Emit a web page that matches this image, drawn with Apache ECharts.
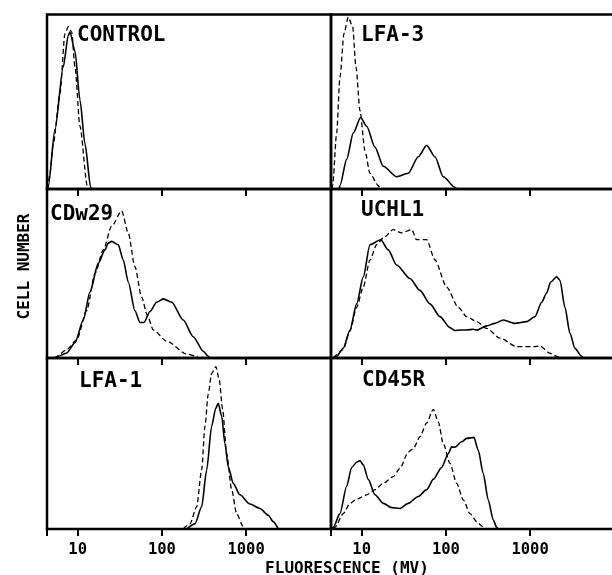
<!DOCTYPE html>
<html><head><meta charset="utf-8">
<script src="https://cdn.jsdelivr.net/npm/echarts@6/dist/echarts.min.js"></script>
<style>html,body{margin:0;padding:0;background:#fff;overflow:hidden}#c{width:612px;height:575px}</style>
</head><body><div id="c"></div>
<script>
// Panel names (row-major: left, right)
const panelNames = ['CONTROL', 'LFA-3', 'CDw29', 'UCHL1', 'LFA-1', 'CD45R'];
const xTickLabels = [10, 100, 1000];
const xAxisTitle = 'FLUORESCENCE (MV)';
const yAxisTitle = 'CELL NUMBER';

// [fluorescence (MV), cell number (% of panel height)]
const controlSolid = [[4.38,0],[4.47,1.3],[5.37,34],[6.74,70],[7.73,88],[8.09,90],[9.28,79],[10.64,51],[12.2,26],[14.26,1],[14.5,0]];
const controlDashed = [[4.43,0],[4.68,9],[5.13,26],[6.16,55],[7.06,89],[7.73,93],[8.48,90],[9.28,70],[10.64,36],[12.99,2],[13.3,0]];

const lfa3Solid = [[5.4,0],[5.52,2],[6.63,17],[7.94,32],[9.72,41],[11.46,36],[14.38,24],[18.04,13],[26,7],[35.7,9],[47,18.5],[59.1,25],[74.2,18.5],[93.1,7],[128,1],[135,0]];
const lfa3Dashed = [[4.4,0],[4.52,2],[5.04,32],[5.52,64],[6.16,89],[6.93,98.5],[7.81,93],[8.55,70],[9.54,45],[10.93,22],[12.54,9],[15.73,2],[16.5,0]];

const cdw29Solid = [[5.6,0],[5.88,1],[7.4,3],[9.28,9],[11.65,22.5],[13.98,39],[17.55,56],[21.08,64],[23.07,68],[25.31,69],[30.33,67],[34.77,58],[39.86,45],[47.87,28],[54.89,21],[61.2,21],[72.2,27.5],[86.7,33],[103.8,35],[130.6,33],[179.4,22.5],[235.8,12.6],[309.9,4],[355.4,1],[370,0]];
const cdw29Dashed = [[5.3,0],[5.63,1],[7.4,5],[9.72,10.7],[12.78,28],[16.04,50],[20.12,64],[25.31,78],[33.29,87],[39.86,74],[47.87,54],[57.5,36],[67,25.4],[79,16.6],[113.9,10],[196.9,2.4],[258.9,1],[270,0]];

const uchl1Solid = [[4.62,0],[5.04,1],[6.04,5.8],[7.26,16.6],[8.71,32],[10.44,48],[12.54,67],[16.8,70],[20.68,64],[26.02,55],[37.43,47],[49.2,40],[64.7,32],[85,24.5],[111.8,18],[128.2,16.3],[146.9,16.6],[176.4,16.6],[212,17],[232.6,16.5],[305,19],[382.5,20.5],[480.1,22.5],[661.2,20.5],[910.5,21.5],[1142,24.5],[1372,33],[1573,38.5],[1755,45],[2068,48],[2263,46],[2595,30],[2975,14.6],[3412,5.7],[4098,1],[4300,0]];
const uchl1Dashed = [[4.62,0],[6.04,5],[7.26,16],[8.71,30],[10.44,42],[12.54,58],[15.06,67],[18.04,71],[23.71,76],[29.84,74],[39.21,76],[44.96,70],[59.1,70],[74.2,58],[102.1,42],[140.3,30],[176.4,24.5],[232.6,21.5],[305,17.5],[438.7,11.8],[692.6,6.7],[1090,6.7],[1310,7.1],[1722,2.8],[2068,1],[2263,0]];

const lfa1Solid = [[196.9,0],[247,3],[296.7,13],[340.2,34.5],[389.9,60],[435.2,70.5],[467.1,73.5],[512.7,66],[561,50],[614,36.4],[704,26.7],[845.8,20],[1111,14.6],[1461,12],[1834,8],[2102,4.3],[2410,0]];
const lfa1Dashed = [[179.4,0],[215.4,3],[258.9,13],[296.7,34.5],[324.7,60],[355.4,79],[389.9,91],[438.7,95],[480.1,87],[526.9,70],[587.7,44],[673.9,23],[772.7,9],[925.6,1.3],[960,0]];

const cd45rSolid = [[4.4,0],[4.6,1],[5.52,9],[6.63,25],[7.6,36],[8.71,39],[9.54,40],[10.44,37.5],[11.97,29],[14.38,20],[18.04,15],[22.7,12.5],[28.48,12],[35.73,15],[46.96,19],[59.1,23],[70.8,29],[89.1,36],[106.7,44],[117.1,48],[128.2,47.8],[153.9,51],[176.4,53],[215.4,53.6],[242.3,46],[277.8,32.5],[318.6,17],[365.3,5.3],[400.8,1],[415,0]];
const cd45rDashed = [[4.6,0],[4.81,1],[6.04,9],[7.26,15],[8.71,17.4],[11.46,20],[14.38,23],[18.04,26.7],[23.71,30.6],[28.48,35.5],[35.73,45],[40.97,47],[49.2,54],[59.1,62],[70.8,70],[81.2,62.7],[93,50],[111.8,38.4],[134.3,26.7],[160.8,17],[193.1,9],[232.6,4.3],[265.9,1.8],[280,0]];

const solidSeries = [controlSolid, lfa3Solid, cdw29Solid, uchl1Solid, lfa1Solid, cd45rSolid];
const dashedSeries = [controlDashed, lfa3Dashed, cdw29Dashed, uchl1Dashed, lfa1Dashed, cd45rDashed];

// ---- layout ----
const rows = [{top: 14.5, height: 174.5}, {top: 189, height: 169}, {top: 358, height: 171}];
const cols = [{left: 47, width: 284}, {left: 331, width: 284}];
const labelPos = [[77, 36], [361, 36], [50, 215], [361, 211], [79, 381.5], [362, 381]];
const FONT = '"DejaVu Sans Mono", monospace';

const grids = [], xAxes = [], yAxes = [], series = [], graphics = [];
for (let i = 0; i < 6; i++) {
  const r = Math.floor(i / 2), c = i % 2;
  grids.push({left: cols[c].left, width: cols[c].width, top: rows[r].top, height: rows[r].height,
    outerBoundsMode: 'none', containLabel: false,
    show: true, borderColor: '#000', borderWidth: 2.5, backgroundColor: 'transparent'});
  xAxes.push({type: 'log', logBase: 10, gridIndex: i, min: 4.32, max: 10200,
    axisLine: {show: false},
    axisTick: {show: true, inside: false, length: 7, lineStyle: {color: '#000', width: 2}},
    splitLine: {show: false},
    axisLabel: {show: r === 2, margin: 13, color: '#000', fontFamily: FONT, fontWeight: 'bold', fontSize: 15.5,
      formatter: v => xTickLabels.includes(Math.round(v)) ? String(Math.round(v)) : ''}
  });
  yAxes.push({type: 'value', gridIndex: i, min: 0, max: 100, show: false});
  series.push({type: 'line', xAxisIndex: i, yAxisIndex: i, data: solidSeries[i], showSymbol: false,
    smooth: 0.25, smoothMonotone: 'x', lineStyle: {color: '#000', width: 1.6}, silent: true});
  series.push({type: 'line', xAxisIndex: i, yAxisIndex: i, data: dashedSeries[i], showSymbol: false,
    smooth: 0.25, smoothMonotone: 'x', lineStyle: {color: '#000', width: 1.3, type: [5, 3]}, silent: true});
  graphics.push({type: 'text', x: labelPos[i][0], y: labelPos[i][1],
    style: {text: panelNames[i], align: 'left', verticalAlign: 'middle', fill: '#000',
      font: 'bold 21px ' + FONT}});
}
graphics.push({type: 'text', x: 347, y: 568.5,
  style: {text: xAxisTitle, align: 'center', verticalAlign: 'middle', fill: '#000', font: 'bold 16px ' + FONT}});
graphics.push({type: 'text', x: 25, y: 266.5, rotation: Math.PI / 2,
  style: {text: yAxisTitle, align: 'center', verticalAlign: 'middle', fill: '#000', font: 'bold 16px ' + FONT}});

const chart = echarts.init(document.getElementById('c'), null, {renderer: 'canvas'});
chart.setOption({
  animation: false,
  backgroundColor: '#fff',
  grid: grids, xAxis: xAxes, yAxis: yAxes, series: series, graphic: graphics
});
</script></body></html>
